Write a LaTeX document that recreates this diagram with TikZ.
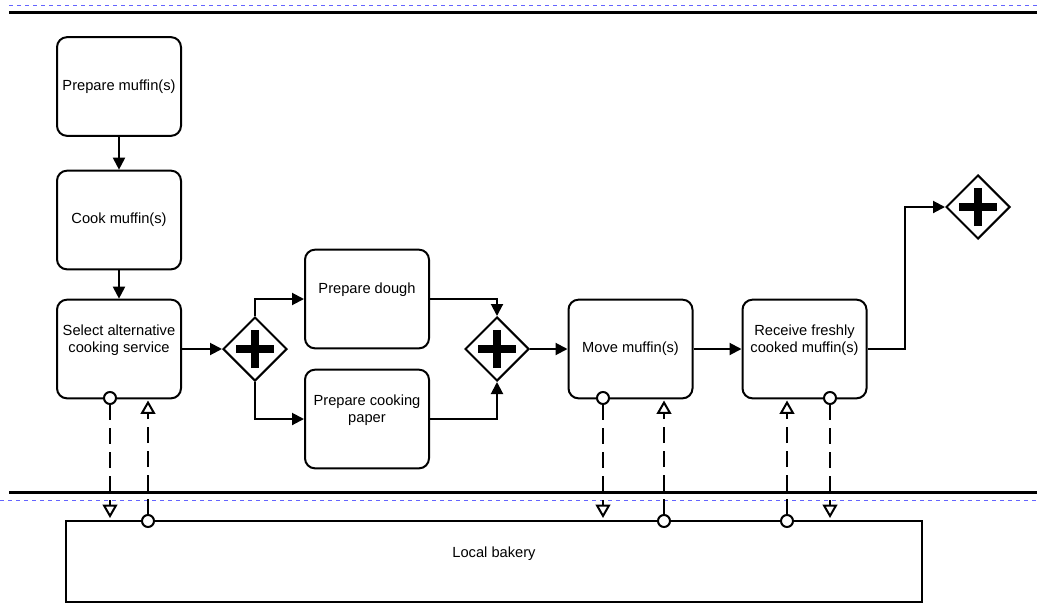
\documentclass[tikz,border=0pt]{standalone}
\usepackage{fontspec}
\setmainfont{Liberation Sans}
\usetikzlibrary{arrows.meta, shapes.geometric}

\begin{document}
\begin{tikzpicture}[x=0.75pt, y=-0.75pt,
  font=\fontsize{11}{12.75}\selectfont,
  task/.style={rectangle, draw, line width=1.5pt, rounded corners=7.5pt,
    minimum width=93pt, minimum height=74pt, align=center},
  tasklbl/.style={align=center, yshift=6.75pt},
  gateway/.style={diamond, draw, line width=1.5pt, fill=white, inner sep=0pt,
    minimum width=48pt, minimum height=48pt,
    path picture={\draw[line width=6pt]
      ([xshift=-14.25pt]path picture bounding box.center) -- ([xshift=14.25pt]path picture bounding box.center)
      ([yshift=-14.25pt]path picture bounding box.center) -- ([yshift=14.25pt]path picture bounding box.center);}},
  flow/.style={line width=1.5pt, -{Triangle[length=9pt, width=9pt]}},
  msg/.style={line width=1.5pt, dash pattern=on 12pt off 6pt,
    {Circle[fill=white, length=10.5pt]}-{Triangle[fill=white, length=10pt, width=11pt]}},
  lane/.style={line width=2.25pt},
  pageline/.style={draw={rgb,255:red,100;green,100;blue,255}, line width=0.75pt, dash pattern=on 3pt off 3pt}]
  \useasboundingbox (0,0) rectangle (1037,603);

  % page and lane lines
  \draw[pageline] (9,5) -- (1037,5);
  \draw[pageline] (0,500) -- (1037,500);

  % nodes
  \node[task] (prep) at (119,86.5) {Prepare muffin(s)};
  \node[task] (cook) at (119,220) {Cook muffin(s)};
  \node[task, label={[tasklbl]center:Select alternative\\cooking service}] (select) at (119,349) {};
  \node[gateway] (g1) at (255,349) {};
  \node[task, label={[tasklbl]center:Prepare dough}] (dough) at (367,299) {};
  \node[task, label={[tasklbl]center:Prepare cooking\\paper}] (paper) at (367,419) {};
  \node[gateway] (g2) at (497,349) {};
  \node[task] (move) at (630.5,349) {Move muffin(s)};
  \node[task, label={[tasklbl]center:Receive freshly\\cooked muffin(s)}] (receive) at (804.5,349) {};
  \node[gateway] (g3) at (978,207) {};
  \node[rectangle, draw, line width=1.5pt, minimum width=642pt, minimum height=60.75pt,
    label={[yshift=6pt]center:Local bakery}] (bakery) at (494,561.5) {};

  % sequence flows
  \draw[flow] (prep) -- (cook);
  \draw[flow] (cook) -- (select);
  \draw[flow] (select) -- (g1);
  \draw[flow] (g1.north) |- (dough.west);
  \draw[flow] (g1.south) |- (paper.west);
  \draw[flow] (dough.east) -| (g2.north);
  \draw[flow] (paper.east) -| (g2.south);
  \draw[flow] (g2) -- (move);
  \draw[flow] (move) -- (receive);
  \draw[flow] (receive.east) -- ++(37,0) |- (g3.west);

  % message ports
  \coordinate (selout) at (110,391);  \coordinate (bakin1) at (110,518);
  \coordinate (bakout1) at (148,528); \coordinate (selin) at (148,400.5);
  \coordinate (movout) at (603,391);  \coordinate (bakin2) at (603,518);
  \coordinate (bakout2) at (664,528); \coordinate (movin) at (664,400.5);
  \coordinate (bakout3) at (787,528); \coordinate (recin) at (787,400.5);
  \coordinate (recout) at (830,391);  \coordinate (bakin3) at (830,518);

  % message flows
  \draw[msg] (selout) -- (bakin1);
  \draw[msg] (bakout1) -- (selin);
  \draw[msg] (movout) -- (bakin2);
  \draw[msg] (bakout2) -- (movin);
  \draw[msg] (bakout3) -- (recin);
  \draw[msg] (recout) -- (bakin3);

  \draw[lane] (9,12) -- (1037,12);
  \draw[lane] (9,492.5) -- (1037,492.5);
\end{tikzpicture}
\end{document}
